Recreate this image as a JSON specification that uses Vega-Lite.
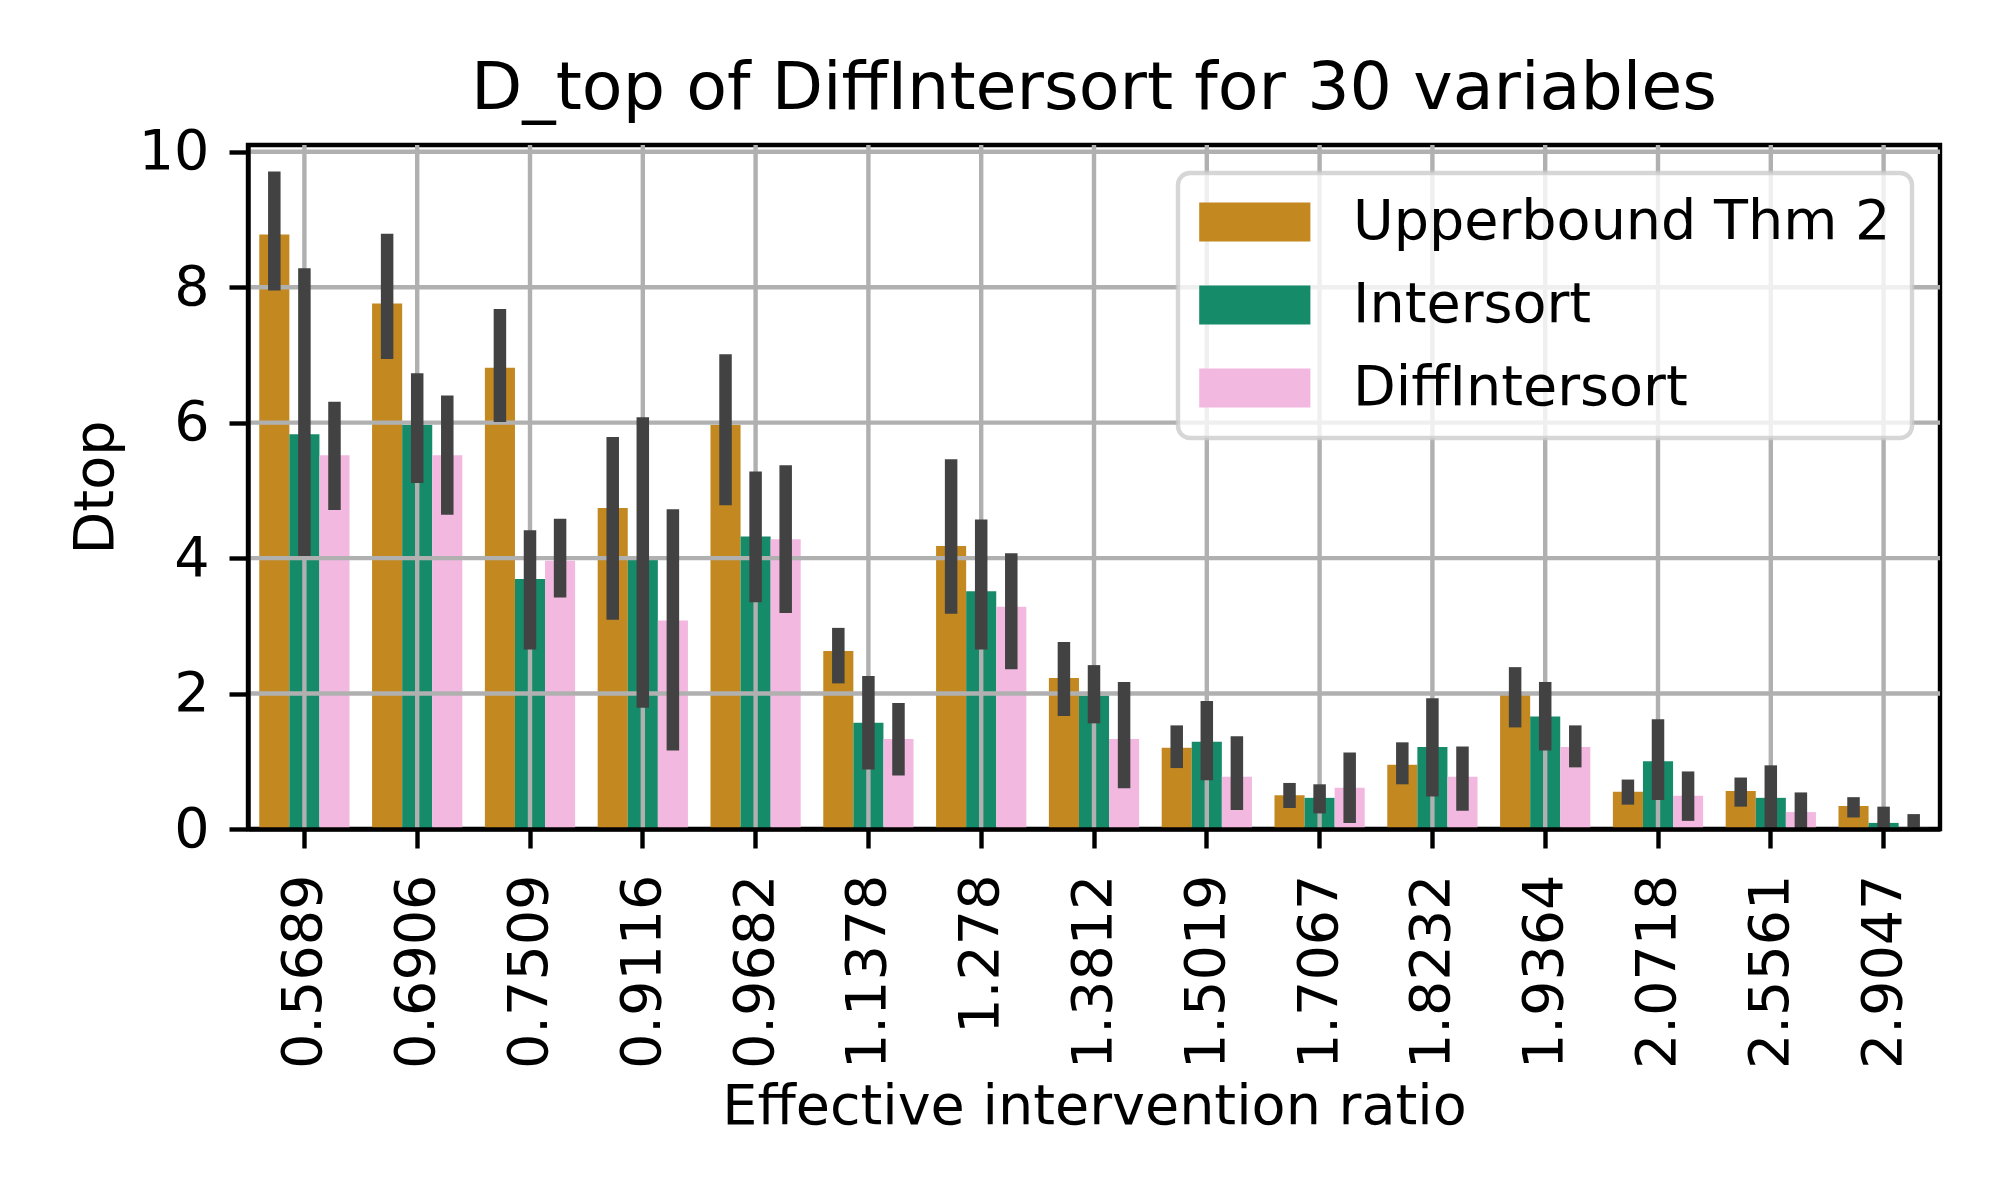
{
  "$schema": "https://vega.github.io/schema/vega-lite/v6.json",
  "autosize": {"type": "none"},
  "padding": {"left": 248, "top": 145, "right": 60, "bottom": 316},
  "width": 1692,
  "height": 684,
  "background": "white",
  "title": {"text": "D_top of DiffIntersort for 30 variables", "fontSize": 66.7, "font": "DejaVu Sans", "fontWeight": "normal", "color": "black", "offset": 2, "anchor": "middle", "frame": "group"},
  "config": {
    "font": "DejaVu Sans",
    "view": {"stroke": "black", "strokeWidth": 4.4},
    "scale": {"offsetBandPaddingInner": 0, "offsetBandPaddingOuter": 0}
  },
  "datasets": {
    "bars": [
      {"ratio": "0.5689", "method": "Upperbound Thm 2", "mean": 8.78, "lo": 7.95, "hi": 9.71},
      {"ratio": "0.5689", "method": "Intersort", "mean": 5.83, "lo": 4.03, "hi": 8.28},
      {"ratio": "0.5689", "method": "DiffIntersort", "mean": 5.52, "lo": 4.71, "hi": 6.31},
      {"ratio": "0.6906", "method": "Upperbound Thm 2", "mean": 7.76, "lo": 6.94, "hi": 8.79},
      {"ratio": "0.6906", "method": "Intersort", "mean": 5.97, "lo": 5.11, "hi": 6.73},
      {"ratio": "0.6906", "method": "DiffIntersort", "mean": 5.52, "lo": 4.64, "hi": 6.40},
      {"ratio": "0.7509", "method": "Upperbound Thm 2", "mean": 6.81, "lo": 6.01, "hi": 7.68},
      {"ratio": "0.7509", "method": "Intersort", "mean": 3.69, "lo": 2.65, "hi": 4.41},
      {"ratio": "0.7509", "method": "DiffIntersort", "mean": 3.96, "lo": 3.42, "hi": 4.58},
      {"ratio": "0.9116", "method": "Upperbound Thm 2", "mean": 4.74, "lo": 3.09, "hi": 5.79},
      {"ratio": "0.9116", "method": "Intersort", "mean": 3.98, "lo": 1.79, "hi": 6.08},
      {"ratio": "0.9116", "method": "DiffIntersort", "mean": 3.08, "lo": 1.16, "hi": 4.72},
      {"ratio": "0.9682", "method": "Upperbound Thm 2", "mean": 5.97, "lo": 4.78, "hi": 7.01},
      {"ratio": "0.9682", "method": "Intersort", "mean": 4.32, "lo": 3.35, "hi": 5.28},
      {"ratio": "0.9682", "method": "DiffIntersort", "mean": 4.28, "lo": 3.19, "hi": 5.37},
      {"ratio": "1.1378", "method": "Upperbound Thm 2", "mean": 2.63, "lo": 2.15, "hi": 2.97},
      {"ratio": "1.1378", "method": "Intersort", "mean": 1.57, "lo": 0.88, "hi": 2.26},
      {"ratio": "1.1378", "method": "DiffIntersort", "mean": 1.33, "lo": 0.79, "hi": 1.86},
      {"ratio": "1.278", "method": "Upperbound Thm 2", "mean": 4.18, "lo": 3.18, "hi": 5.46},
      {"ratio": "1.278", "method": "Intersort", "mean": 3.51, "lo": 2.65, "hi": 4.57},
      {"ratio": "1.278", "method": "DiffIntersort", "mean": 3.28, "lo": 2.36, "hi": 4.07},
      {"ratio": "1.3812", "method": "Upperbound Thm 2", "mean": 2.23, "lo": 1.67, "hi": 2.76},
      {"ratio": "1.3812", "method": "Intersort", "mean": 1.97, "lo": 1.56, "hi": 2.42},
      {"ratio": "1.3812", "method": "DiffIntersort", "mean": 1.33, "lo": 0.60, "hi": 2.17},
      {"ratio": "1.5019", "method": "Upperbound Thm 2", "mean": 1.20, "lo": 0.90, "hi": 1.53},
      {"ratio": "1.5019", "method": "Intersort", "mean": 1.29, "lo": 0.72, "hi": 1.89},
      {"ratio": "1.5019", "method": "DiffIntersort", "mean": 0.77, "lo": 0.28, "hi": 1.37},
      {"ratio": "1.7067", "method": "Upperbound Thm 2", "mean": 0.50, "lo": 0.31, "hi": 0.68},
      {"ratio": "1.7067", "method": "Intersort", "mean": 0.46, "lo": 0.23, "hi": 0.66},
      {"ratio": "1.7067", "method": "DiffIntersort", "mean": 0.61, "lo": 0.09, "hi": 1.13},
      {"ratio": "1.8232", "method": "Upperbound Thm 2", "mean": 0.95, "lo": 0.66, "hi": 1.28},
      {"ratio": "1.8232", "method": "Intersort", "mean": 1.21, "lo": 0.48, "hi": 1.93},
      {"ratio": "1.8232", "method": "DiffIntersort", "mean": 0.77, "lo": 0.27, "hi": 1.22},
      {"ratio": "1.9364", "method": "Upperbound Thm 2", "mean": 1.98, "lo": 1.50, "hi": 2.39},
      {"ratio": "1.9364", "method": "Intersort", "mean": 1.66, "lo": 1.16, "hi": 2.17},
      {"ratio": "1.9364", "method": "DiffIntersort", "mean": 1.21, "lo": 0.91, "hi": 1.53},
      {"ratio": "2.0718", "method": "Upperbound Thm 2", "mean": 0.55, "lo": 0.36, "hi": 0.73},
      {"ratio": "2.0718", "method": "Intersort", "mean": 1.00, "lo": 0.43, "hi": 1.62},
      {"ratio": "2.0718", "method": "DiffIntersort", "mean": 0.49, "lo": 0.12, "hi": 0.85},
      {"ratio": "2.5561", "method": "Upperbound Thm 2", "mean": 0.56, "lo": 0.33, "hi": 0.76},
      {"ratio": "2.5561", "method": "Intersort", "mean": 0.46, "lo": 0.0, "hi": 0.94},
      {"ratio": "2.5561", "method": "DiffIntersort", "mean": 0.25, "lo": 0.0, "hi": 0.54},
      {"ratio": "2.9047", "method": "Upperbound Thm 2", "mean": 0.34, "lo": 0.17, "hi": 0.47},
      {"ratio": "2.9047", "method": "Intersort", "mean": 0.09, "lo": 0.0, "hi": 0.33},
      {"ratio": "2.9047", "method": "DiffIntersort", "mean": 0.02, "lo": 0.0, "hi": 0.22}
    ],
    "gridx": [
      {"ratio": "0.5689"}, {"ratio": "0.6906"}, {"ratio": "0.7509"}, {"ratio": "0.9116"}, {"ratio": "0.9682"},
      {"ratio": "1.1378"}, {"ratio": "1.278"}, {"ratio": "1.3812"}, {"ratio": "1.5019"}, {"ratio": "1.7067"},
      {"ratio": "1.8232"}, {"ratio": "1.9364"}, {"ratio": "2.0718"}, {"ratio": "2.5561"}, {"ratio": "2.9047"}
    ],
    "gridy": [{"v": 2}, {"v": 4}, {"v": 6}, {"v": 8}, {"v": 10}]
  },
  "layer": [
    {
      "data": {"name": "bars"},
      "mark": {"type": "bar"},
      "encoding": {
        "x": {
          "field": "ratio", "type": "nominal",
          "scale": {"domain": ["0.5689","0.6906","0.7509","0.9116","0.9682","1.1378","1.278","1.3812","1.5019","1.7067","1.8232","1.9364","2.0718","2.5561","2.9047"], "paddingInner": 0.2, "paddingOuter": 0.1},
          "axis": {
            "title": "Effective intervention ratio", "titleFontSize": 55.6, "titleFontWeight": "normal", "titleColor": "black", "titlePadding": 50,
            "labelAngle": 270, "labelAlign": "right", "labelBaseline": "middle", "labelFontSize": 55.6, "labelColor": "black", "labelPadding": 26, "labelLimit": 0,
            "tickSize": 19, "tickWidth": 4.4, "tickColor": "black", "domain": true, "domainColor": "black", "domainWidth": 4.4, "grid": false, "zindex": 1
          }
        },
        "xOffset": {"field": "method", "type": "nominal", "scale": {"domain": ["Upperbound Thm 2", "Intersort", "DiffIntersort"]}},
        "y": {
          "field": "mean", "type": "quantitative",
          "scale": {"domain": [0, 10.1], "nice": false},
          "axis": {
            "title": "Dtop", "titleFontSize": 55.6, "titleFontWeight": "normal", "titleColor": "black", "titlePadding": 14,
            "values": [0, 2, 4, 6, 8, 10], "format": "d", "labelFontSize": 55.6, "labelColor": "black", "labelPadding": 20,
            "tickSize": 19, "tickWidth": 4.4, "tickColor": "black", "domain": true, "domainColor": "black", "domainWidth": 4.4, "grid": false, "zindex": 1
          }
        },
        "color": {
          "field": "method", "type": "nominal",
          "scale": {"domain": ["Upperbound Thm 2", "Intersort", "DiffIntersort"], "range": ["#c38820", "#168b6a", "#f2b8e0"]},
          "legend": {
            "title": null, "orient": "top-right", "offset": 28, "padding": 21,
            "labelFontSize": 55.6, "labelColor": "black", "labelOffset": 98, "labelLimit": 0,
            "symbolType": "M-1,-0.7H3V0.7H-1Z", "symbolSize": 3091, "symbolStrokeWidth": 0, "symbolOpacity": 1,
            "rowPadding": 26,
            "fillColor": "rgba(255,255,255,0.8)", "strokeColor": "rgba(204,204,204,0.8)", "cornerRadius": 12,
            "encode": {"legend": {"update": {"strokeWidth": {"value": 4.4}}}}
          }
        }
      }
    },
    {
      "data": {"name": "gridx"},
      "mark": {"type": "rule", "color": "#b0b0b0", "strokeWidth": 4.4},
      "encoding": {"x": {"field": "ratio", "type": "nominal"}}
    },
    {
      "data": {"name": "gridy"},
      "mark": {"type": "rule", "color": "#b0b0b0", "strokeWidth": 4.4},
      "encoding": {"y": {"field": "v", "type": "quantitative"}}
    },
    {
      "data": {"name": "bars"},
      "mark": {"type": "rule", "color": "#424242", "strokeWidth": 12.5, "strokeCap": "butt"},
      "encoding": {
        "x": {"field": "ratio", "type": "nominal"},
        "xOffset": {"field": "method", "type": "nominal"},
        "y": {"field": "lo", "type": "quantitative"},
        "y2": {"field": "hi"}
      }
    }
  ]
}
